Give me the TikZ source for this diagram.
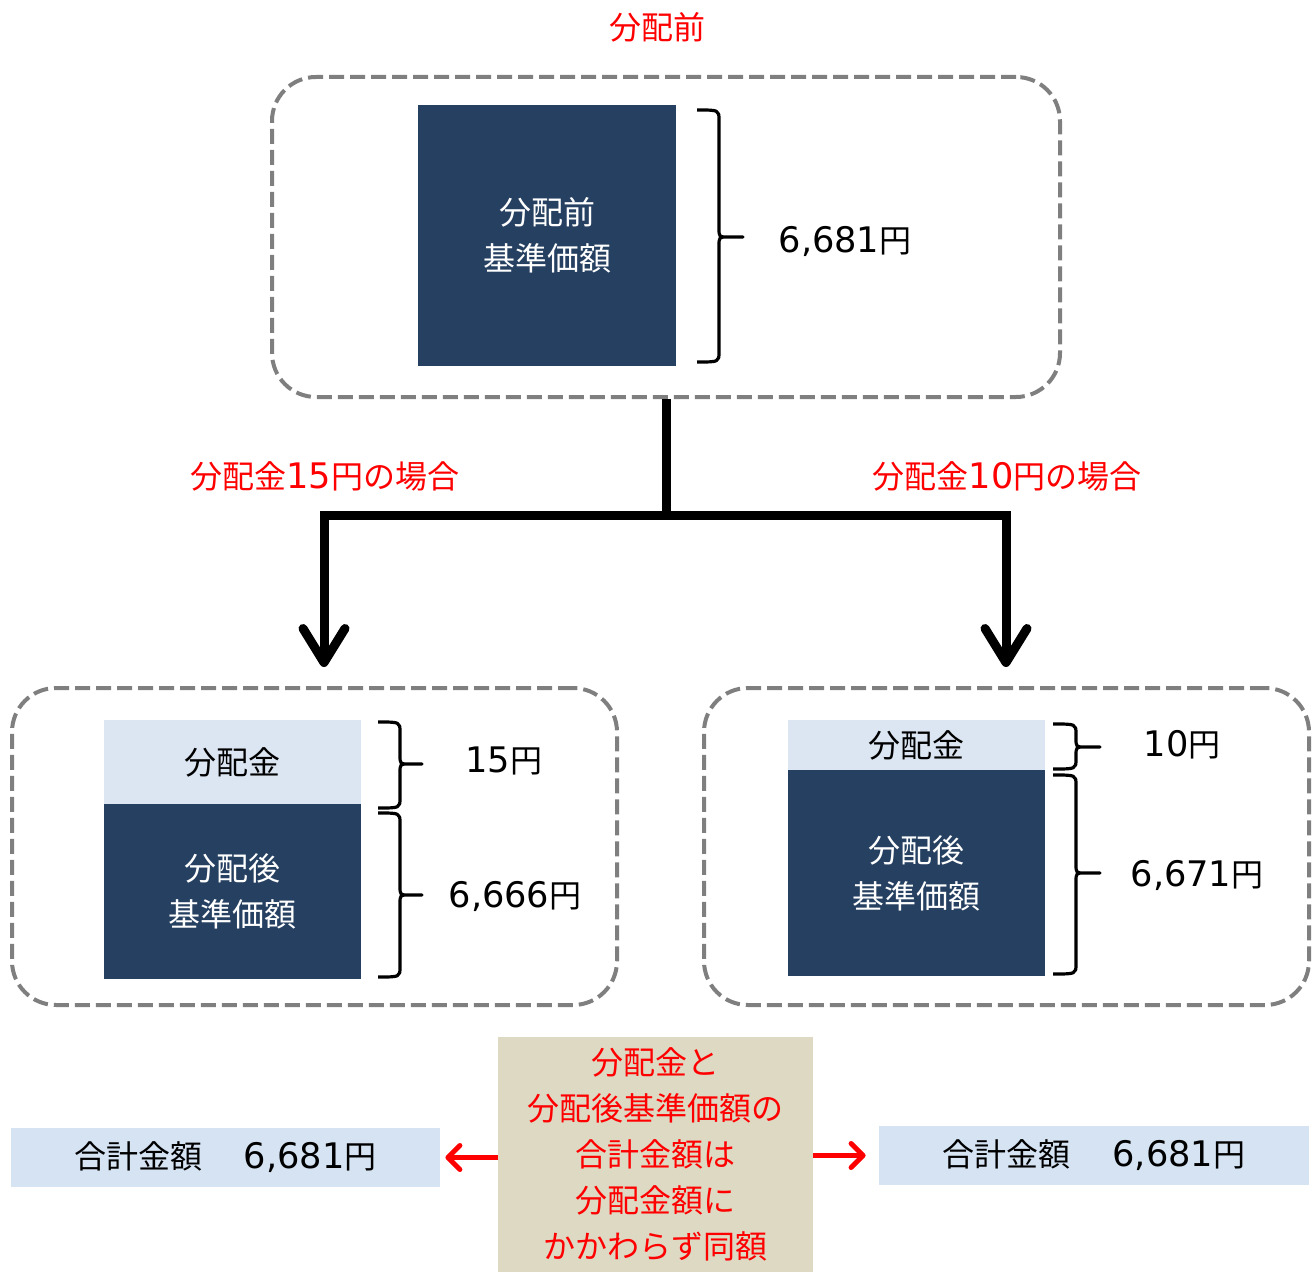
\documentclass[tikz,border=0pt]{standalone}
\usepackage{fontspec}
\setmainfont{Noto Sans CJK JP}
\newfontfamily\numf[Scale=1.1]{DejaVu Sans}
\usetikzlibrary{arrows.meta}
\definecolor{navy}{RGB}{38,64,97}
\definecolor{paleblue}{RGB}{220,230,242}
\definecolor{totblue}{RGB}{213,227,243}
\definecolor{beige}{RGB}{221,217,195}
\definecolor{dgray}{RGB}{127,127,127}
\newcommand\rbr[6]{%
  \draw[bracestyle] (#1,#4) .. controls (#2,#4) .. (#2,#4+10) -- (#2,#5-9)
    .. controls (#2,#5) .. (#2+9,#5) -- (#3,#5) -- (#2+9,#5)
    .. controls (#2,#5) .. (#2,#5+9) -- (#2,#6-10) .. controls (#2,#6) .. (#1,#6);}
\tikzset{
  dbox/.style={draw=dgray, line width=2pt, dash pattern=on 7.5pt off 3pt, rounded corners=22pt, inner sep=0pt},
  navybox/.style={fill=navy, text=white, align=center, inner sep=0pt},
  lightbox/.style={fill=paleblue, text=black, inner sep=0pt},
  val/.style={text=black, inner sep=0pt},
  lab/.style={text=red, inner sep=0pt},
  bracestyle/.style={line width=1.6pt, line join=round},
  tree/.style={line width=4.5pt, line join=miter},
  redarr/.style={draw=red, line width=2.5pt, -{Straight Barb[length=6pt,width=12pt,round]}},
}
\begin{document}
\begin{tikzpicture}[x=0.5pt, y=-0.5pt, font=\fontsize{16pt}{23pt}\selectfont]
\useasboundingbox (0,0) rectangle (1312,1273);

% top
\node[lab] (title) at (657,27) {分配前};
\node[dbox, minimum width=394pt, minimum height=160pt] (topbox) at (666,237) {};
\node[navybox, minimum width=129pt, minimum height=130.5pt] (topnav) at (547,235.5) {分配前\\基準価額};
\rbr{697}{719}{743}{110}{237}{362}
\node[val] (topval) at (845,241) {{\numf 6,681}円};

% tree
\coordinate (junc) at (666,515);
\coordinate (ltip) at (324,667);
\coordinate (rtip) at (1006,667);
\draw[tree] (topbox.south) -- (junc);
\draw[tree, -{Straight Barb[length=17pt,width=21pt,round]}] (junc) -| (ltip);
\draw[tree, -{Straight Barb[length=17pt,width=21pt,round]}] (junc) -| (rtip);
\node[lab] (llab) at (325,476) {分配金{\numf 15}円の場合};
\node[lab] (rlab) at (1007,476) {分配金{\numf 10}円の場合};

% left case
\node[dbox, minimum width=302.5pt, minimum height=158.5pt] (lbox) at (314.5,846.5) {};
\node[lightbox, minimum width=128.5pt, minimum height=42pt] (lpay) at (232.5,762) {分配金};
\node[navybox, minimum width=128.5pt, minimum height=87.5pt] (lnav) at (232.5,891.5) {分配後\\基準価額};
\rbr{378}{400}{422}{722}{764}{808}
\rbr{378}{400}{422}{813}{895}{977}
\node[val] (lpayv) at (504,761) {{\numf 15}円};
\node[val] (lnavv) at (515,896) {{\numf 6,666}円};

% right case
\node[dbox, minimum width=302.5pt, minimum height=158.5pt] (rbox) at (1006.5,846.5) {};
\node[lightbox, minimum width=128.5pt, minimum height=25pt] (rpay) at (916.5,745) {分配金};
\node[navybox, minimum width=128.5pt, minimum height=103pt] (rnav) at (916.5,873) {分配後\\基準価額};
\rbr{1053}{1076}{1100}{724}{747}{769}
\rbr{1053}{1076}{1100}{775}{873}{974}
\node[val] (rpayv) at (1182,745) {{\numf 10}円};
\node[val] (rnavv) at (1197,875) {{\numf 6,671}円};

% bottom
\node[fill=beige, text=red, align=center, inner sep=0pt, minimum width=157.5pt, minimum height=117.5pt] (cbox) at (655.5,1154.5)
  {分配金と\\分配後基準価額の\\合計金額は\\分配金額に\\かかわらず同額};
\node[fill=totblue, inner sep=0pt, minimum width=214.5pt, minimum height=29.5pt] (ltot) at (225.5,1157.5)
  {合計金額\hspace{1.3em}{\numf 6,681}円};
\node[fill=totblue, inner sep=0pt, minimum width=215pt, minimum height=29.5pt] (rtot) at (1094,1155.5)
  {合計金額\hspace{1.3em}{\numf 6,681}円};
\draw[redarr, shorten >=2.5pt] (cbox.west |- ltot.east) -- (ltot.east);
\draw[redarr, shorten >=6.5pt] (cbox.east |- rtot.west) -- (rtot.west);
\end{tikzpicture}
\end{document}
